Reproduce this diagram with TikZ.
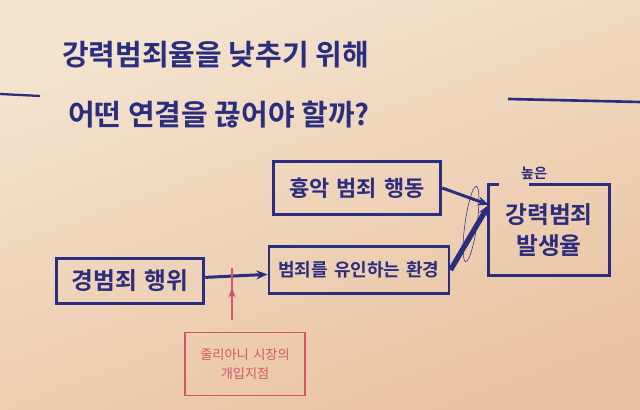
\documentclass[tikz,border=0pt]{standalone}
\usepackage{fontspec}
\setmainfont{Noto Sans CJK KR}[BoldFont={Noto Sans CJK KR Bold}]
\usepackage{xcolor}
\definecolor{ink}{HTML}{2B2D7E}
\definecolor{redink}{HTML}{D65468}
\definecolor{paperhi}{HTML}{F4E4D0}
\definecolor{paperlo}{HTML}{EAC3A2}
\usepackage{tikz}
\usetikzlibrary{arrows.meta,positioning,calc,decorations.markings}
\tikzset{
  >={Stealth[length=4.5mm,width=3.6mm]},
  box/.style    ={draw=ink,line width=3.4pt,text=ink,align=center,
                  inner sep=0pt},
  redbox/.style ={draw=redink,line width=1.2pt,text=redink,align=center,
                  inner sep=0pt,font=\fontsize{15}{21}\selectfont},
  lbl/.style    ={text=ink,inner sep=0pt},
  flow/.style   ={->,draw=ink,line width=3.4pt},
  bigflow/.style={->,draw=ink,line width=6pt},
  cut/.style    ={draw=redink,line width=1.5pt,
                  postaction={decorate},
                  decoration={markings,mark=at position 0.62 with
                  {\arrow{Stealth[length=4mm,width=3mm]}}}},
}

\begin{document}
\begin{tikzpicture}[x=0.4mm,y=0.4mm]
\shade[top color=paperhi,bottom color=paperlo,shading angle=20]
  (0,0) rectangle (640,410);
\useasboundingbox (0,0) rectangle (640,410);
% title
\node[lbl,anchor=west,font=\bfseries\fontsize{33}{38}\selectfont] (t1) at (62,355) {강력범죄율을 낮추기 위해};
\node[lbl,anchor=west,font=\bfseries\fontsize{33}{38}\selectfont] (t2) at (68,295) {어떤 연결을 끊어야 할까?};
\coordinate (la) at (0,316);  \coordinate (lb) at (40,314);
\coordinate (ra) at (508,311); \coordinate (rb) at (640,308);
\draw[ink,line width=2.6pt] (la) -- (lb);
\draw[ink,line width=3pt] (ra) -- (rb);
% boxes
\node[box,text width=66mm,minimum width=67mm,minimum height=21mm,
      font=\bfseries\fontsize{25}{28}\selectfont] (crime) at (357,222) {흉악 범죄 행동};
\node[box,text width=72mm,minimum width=72mm,minimum height=19mm,
      font=\bfseries\fontsize{20.5}{24}\selectfont] (lure) at (359,140) {범죄를 유인하는 환경};
\node[box,text width=58mm,minimum width=59mm,minimum height=18mm,
      font=\bfseries\fontsize{27}{30}\selectfont] (petty) at (130,129) {경범죄 행위};
\node[lbl,text width=48mm,minimum width=48mm,minimum height=36mm,align=center,
      font=\bfseries\fontsize{27}{36}\selectfont] (high) at (549,180) {강력범죄\\발생율};
\draw[ink,line width=3.4pt] ([xshift=16mm]high.north west) -- (high.north east)
  -- (high.south east) -- (high.south west) -- (high.north west) -- ++(4mm,0);
\node[lbl,font=\bfseries\fontsize{16}{18}\selectfont] (hightop) at (534,237) {높은};
\node[redbox,minimum width=48mm,minimum height=25mm,text width=46mm] (mayor) at (245,46)
  {줄리아니 시장의\\개입지점};
% links
\coordinate (meet) at ([yshift=-8mm]high.north west);
\draw[flow] (petty) -- (lure);
\draw[flow] (crime.east) -- (meet);
\draw[bigflow] (lure.east) -- (meet);
\draw[ink,line width=0.6pt,rotate around={-8:(471,186)}] (471,186) ellipse (6 and 38);
% intervention
\coordinate (cutlow) at (232,90);
\coordinate (cuthigh) at (232,142);
\draw[cut] (cutlow) -- (cuthigh);
\end{tikzpicture}
\end{document}
